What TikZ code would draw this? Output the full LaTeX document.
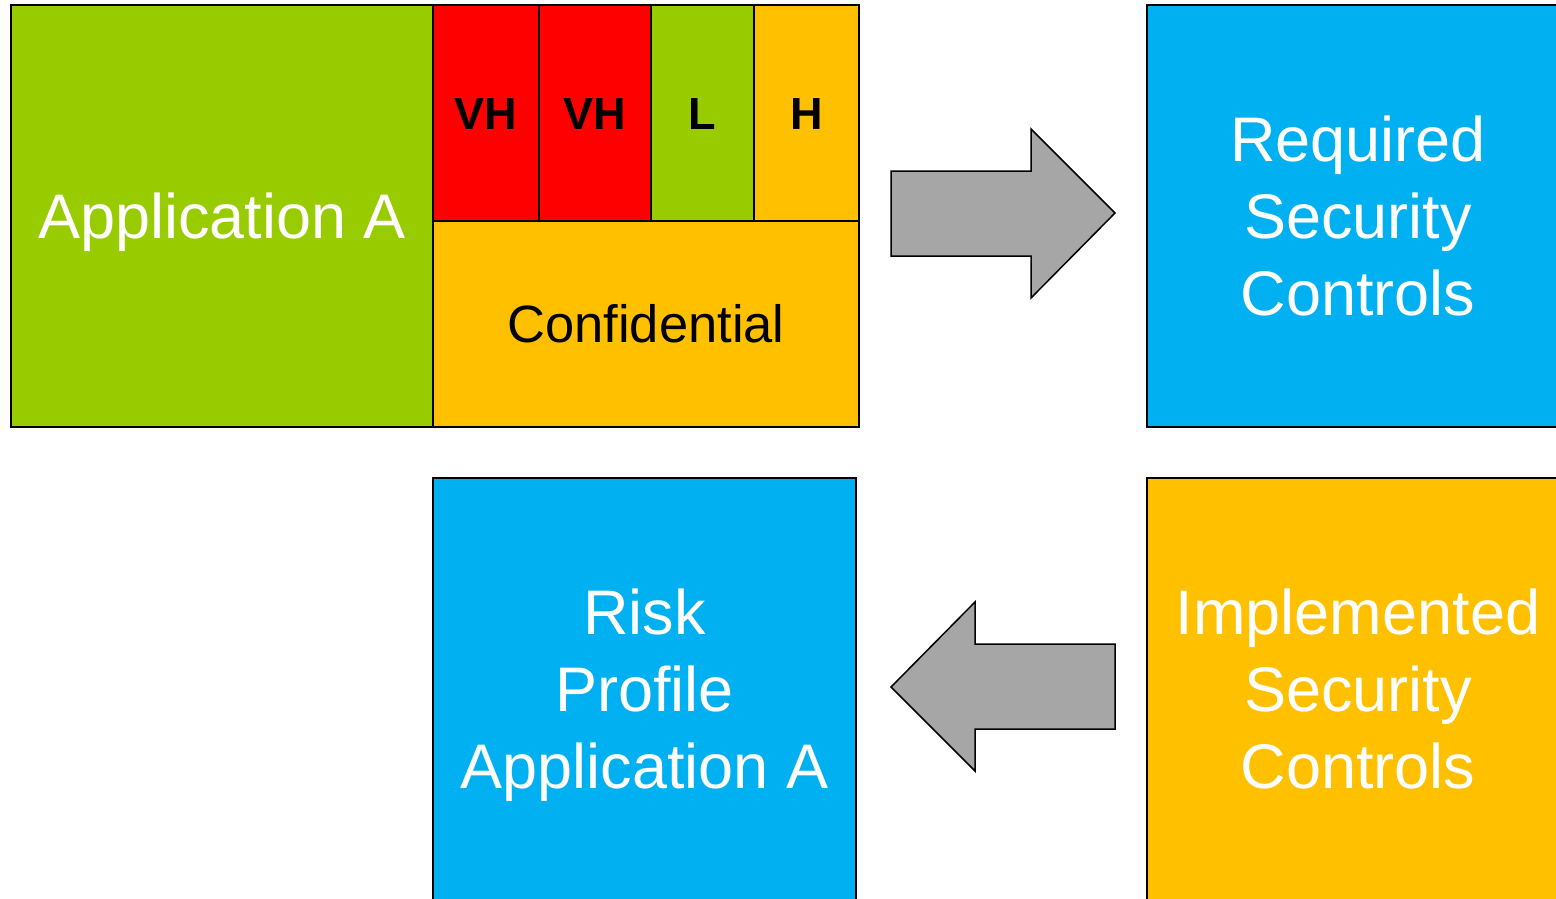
\documentclass[tikz,border=0pt]{standalone}
\usepackage{fontspec}
\setmainfont{Liberation Sans}
\definecolor{appgreen}{HTML}{99CC00}
\definecolor{vhred}{HTML}{FF0000}
\definecolor{amber}{HTML}{FFC000}
\definecolor{skyblue}{HTML}{00B0F0}
\definecolor{arrowgrey}{HTML}{A6A6A6}
\begin{document}
\begin{tikzpicture}[x=1pt,y=-1pt,
  box/.style={draw=black,line width=1.5pt,inner sep=0pt,outer sep=0pt,anchor=north west},
  bigtext/.style={font=\fontsize{63}{77}\selectfont,text=white},
  cell/.style={box,font=\fontsize{45}{54}\selectfont\bfseries,text=black,text height=32.2pt,text depth=0pt},
  blockarrow/.style={draw=black,line width=1.5pt,fill=arrowgrey,line join=miter}]
\useasboundingbox (0,0) rectangle (1556,898);
% top-left cluster
\node[box,fill=appgreen,minimum width=422pt,minimum height=422pt,bigtext,text height=45.1pt,text depth=0pt] (app) at (11,5) {Application A};
\node[cell,fill=vhred,minimum width=106pt,minimum height=216pt] (vh1) at (433,5) {VH};
\node[cell,fill=vhred,minimum width=112pt,minimum height=216pt] (vh2) at (539,5) {VH};
\node[cell,fill=appgreen,minimum width=103pt,minimum height=216pt] (lo) at (651,5) {L};
\node[cell,fill=amber,minimum width=105pt,minimum height=216pt] (hi) at (754,5) {H};
\node[box,fill=amber,minimum width=426pt,minimum height=206pt,font=\fontsize{52.5}{63}\selectfont,text=black,text height=37.6pt,text depth=0pt] (conf) at (433,221) {Confidential};
% right column
\node[box,fill=skyblue,minimum width=422pt,minimum height=422pt,bigtext,align=center] (req) at (1147,5) {Required\\Security\\Controls};
\node[box,fill=amber,minimum width=422pt,minimum height=422pt,bigtext,align=center] (impl) at (1147,478) {Implemented\\Security\\Controls};
% bottom middle
\node[box,fill=skyblue,minimum width=423pt,minimum height=422pt] (risk) at (433,478) {};
\node[bigtext,align=center,inner sep=0pt,yshift=-6.6pt] (risktext) at (risk.center) {Risk\\Profile\\Application A};
% block arrows
\draw[blockarrow] (891,171) -- (1031,171) -- (1031,129) -- (1115,213) -- (1031,298) -- (1031,256) -- (891,256) -- cycle;
\draw[blockarrow] (1115,644) -- (975,644) -- (975,602) -- (891,687) -- (975,771) -- (975,729) -- (1115,729) -- cycle;
\end{tikzpicture}
\end{document}
